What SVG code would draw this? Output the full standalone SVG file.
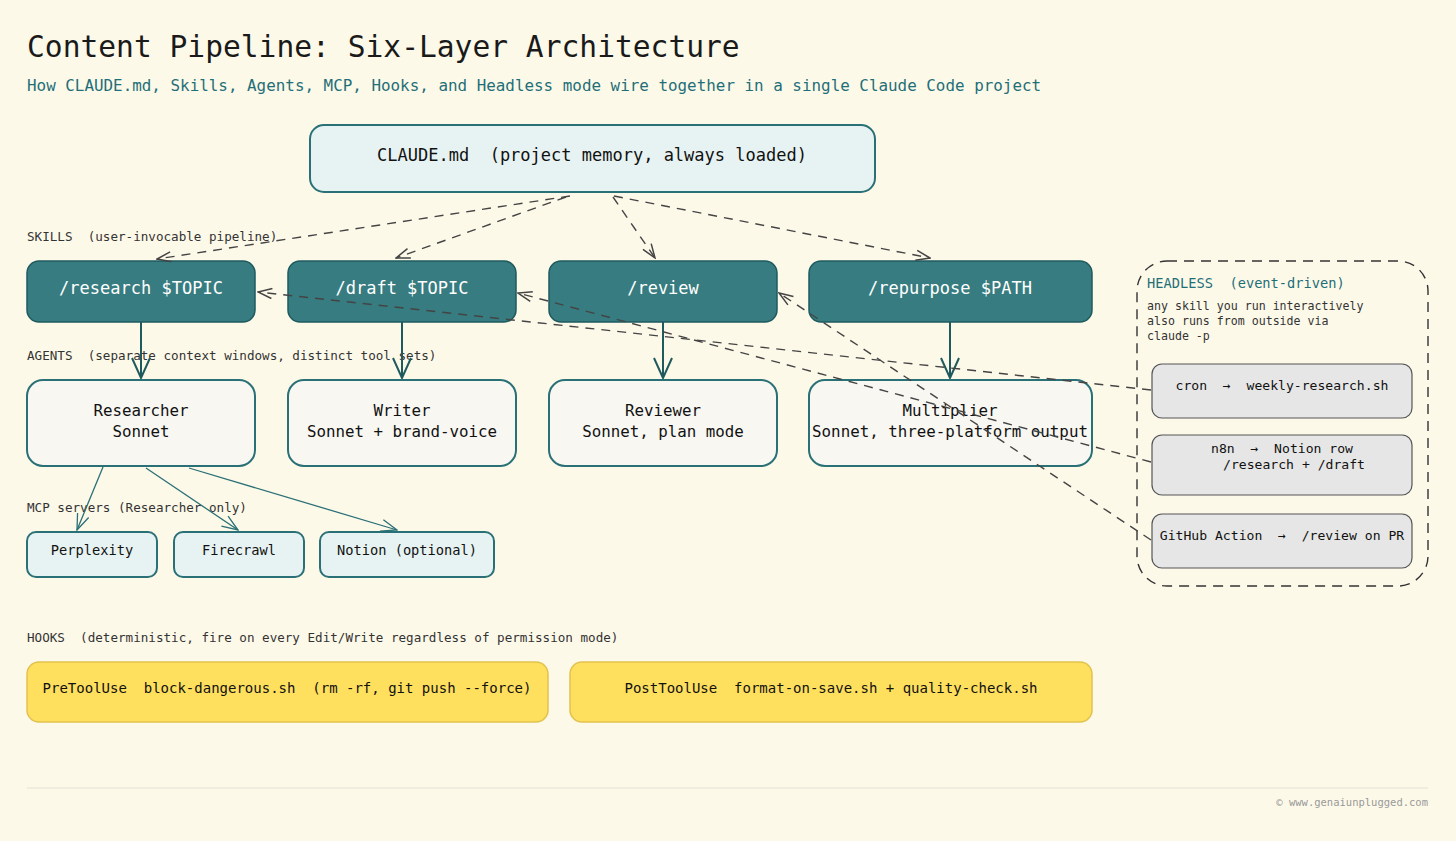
<svg xmlns="http://www.w3.org/2000/svg" width="1456" height="841" viewBox="0 0 1456 841" xml:space="preserve">
<style>
text{font-family:"DejaVu Sans Mono","Liberation Mono",monospace;white-space:pre}
.lbl{font-size:12.6px;fill:#333}
.skill rect{fill:#377c80;stroke:#1e5a5e;stroke-width:1.5}
.skill text{fill:#fff;font-size:17px;text-anchor:middle}
.agent rect{fill:#f8f7f2;stroke:#2a7077;stroke-width:2}
.agent text{fill:#111;font-size:15.8px;text-anchor:middle}
.mcp rect{fill:#e7f3f2;stroke:#2a7077;stroke-width:2}
.mcp text{fill:#111;font-size:13.7px;text-anchor:middle}
.hook rect{fill:#ffdf5e;stroke:#e2c24e;stroke-width:1.5}
.hook text{fill:#111;font-size:14px;text-anchor:middle}
.hl rect{fill:#e6e6e6;stroke:#555;stroke-width:1.2}
.hl text{fill:#111;font-size:13.1px}
.dash{fill:none;stroke:#444;stroke-width:1.4;stroke-dasharray:9 7}
.solid{fill:none;stroke:#1e5a5e;stroke-width:2}
.thin{fill:none;stroke:#2a7077;stroke-width:1.3}
</style>
<defs>
<marker id="ad" viewBox="0 0 16 12" refX="15" refY="6" markerWidth="16" markerHeight="12" markerUnits="userSpaceOnUse" orient="auto">
<path d="M1,1 L15,6 L1,11" fill="none" stroke="#444" stroke-width="1.5"/>
</marker>
<marker id="as" viewBox="0 0 22 20" refX="21" refY="10" markerWidth="22" markerHeight="20" markerUnits="userSpaceOnUse" orient="auto">
<path d="M1,1 L21,10 L1,19" fill="none" stroke="#1e5a5e" stroke-width="2"/>
</marker>
<marker id="at" viewBox="0 0 18 14" refX="17" refY="7" markerWidth="18" markerHeight="14" markerUnits="userSpaceOnUse" orient="auto">
<path d="M1,1 L17,7 L1,13" fill="none" stroke="#2a7077" stroke-width="1.3"/>
</marker>
</defs>
<rect x="0" y="0" width="1456" height="841" fill="#fdf9e9"/>
<text x="27" y="57" font-size="29.6" fill="#1a1a1a">Content Pipeline: Six-Layer Architecture</text>
<text x="27" y="91" font-size="15.9" fill="#1f6f78">How CLAUDE.md, Skills, Agents, MCP, Hooks, and Headless mode wire together in a single Claude Code project</text>
<g id="claude">
<rect x="310" y="125" width="565" height="67" rx="14" fill="#e7f3f2" stroke="#2a7077" stroke-width="2"/>
<text x="592" y="161" font-size="17" fill="#111" text-anchor="middle">CLAUDE.md  (project memory, always loaded)</text>
</g>
<text class="lbl" x="27" y="241">SKILLS  (user-invocable pipeline)</text>
<text class="lbl" x="27" y="360">AGENTS  (separate context windows, distinct tool sets)</text>
<text class="lbl" x="27" y="512">MCP servers (Researcher only)</text>
<text class="lbl" x="27" y="642">HOOKS  (deterministic, fire on every Edit/Write regardless of permission mode)</text>
<g id="skill-research" class="skill"><rect x="27" y="261" width="228" height="61" rx="12"/><text x="141" y="294">/research $TOPIC</text></g>
<g id="skill-draft" class="skill"><rect x="288" y="261" width="228" height="61" rx="12"/><text x="402" y="294">/draft $TOPIC</text></g>
<g id="skill-review" class="skill"><rect x="549" y="261" width="228" height="61" rx="12"/><text x="663" y="294">/review</text></g>
<g id="skill-repurpose" class="skill"><rect x="809" y="261" width="283" height="61" rx="12"/><text x="950" y="294">/repurpose $PATH</text></g>
<g id="agent-researcher" class="agent"><rect x="27" y="380" width="228" height="86" rx="16"/><text x="141" y="416">Researcher</text><text x="141" y="437">Sonnet</text></g>
<g id="agent-writer" class="agent"><rect x="288" y="380" width="228" height="86" rx="16"/><text x="402" y="416">Writer</text><text x="402" y="437">Sonnet + brand-voice</text></g>
<g id="agent-reviewer" class="agent"><rect x="549" y="380" width="228" height="86" rx="16"/><text x="663" y="416">Reviewer</text><text x="663" y="437">Sonnet, plan mode</text></g>
<g id="agent-multiplier" class="agent"><rect x="809" y="380" width="283" height="86" rx="16"/><text x="950" y="416">Multiplier</text><text x="950" y="437">Sonnet, three-platform output</text></g>
<g id="mcp-perplexity" class="mcp"><rect x="27" y="532" width="130" height="45" rx="9"/><text x="92" y="555">Perplexity</text></g>
<g id="mcp-firecrawl" class="mcp"><rect x="174" y="532" width="130" height="45" rx="9"/><text x="239" y="555">Firecrawl</text></g>
<g id="mcp-notion" class="mcp"><rect x="320" y="532" width="174" height="45" rx="9"/><text x="407" y="555">Notion (optional)</text></g>
<g id="hook-pre" class="hook"><rect x="27" y="662" width="521" height="60" rx="12"/><text x="287" y="693">PreToolUse  block-dangerous.sh  (rm -rf, git push --force)</text></g>
<g id="hook-post" class="hook"><rect x="570" y="662" width="522" height="60" rx="12"/><text x="831" y="693">PostToolUse  format-on-save.sh + quality-check.sh</text></g>
<g id="headless">
<rect x="1137" y="261" width="291" height="325" rx="30" fill="none" stroke="#333" stroke-width="1.4" stroke-dasharray="10 7"/>
<text x="1147" y="288" font-size="13.7" fill="#1f6f78">HEADLESS  (event-driven)</text>
<text x="1147" y="310" font-size="11.6" fill="#333">any skill you run interactively</text>
<text x="1147" y="325" font-size="11.6" fill="#333">also runs from outside via</text>
<text x="1147" y="340" font-size="11.6" fill="#333">claude -p</text>
</g>
<g id="hl-cron" class="hl"><rect x="1152" y="364" width="260" height="54" rx="10"/><text x="1282" y="390" text-anchor="middle">cron  →  weekly-research.sh</text></g>
<g id="hl-n8n" class="hl"><rect x="1152" y="435" width="260" height="60" rx="10"/><text x="1282" y="453" text-anchor="middle">n8n  →  Notion row</text><text x="1294" y="469" text-anchor="middle">/research + /draft</text></g>
<g id="hl-github" class="hl"><rect x="1152" y="514" width="260" height="54" rx="10"/><text x="1282" y="540" text-anchor="middle">GitHub Action  →  /review on PR</text></g>
<g id="connectors">
<path class="solid" d="M141,322 V378" marker-end="url(#as)"/>
<path class="solid" d="M402,322 V378" marker-end="url(#as)"/>
<path class="solid" d="M663,322 V378" marker-end="url(#as)"/>
<path class="solid" d="M950,322 V378" marker-end="url(#as)"/>
<path class="thin" d="M103,467 L77,530" marker-end="url(#at)"/>
<path class="thin" d="M146,468 L238,530" marker-end="url(#at)"/>
<path class="thin" d="M189,468 L397,530" marker-end="url(#at)"/>
<path class="dash" d="M570,196 L157,259" marker-end="url(#ad)"/>
<path class="dash" d="M566,197 L396,258" marker-end="url(#ad)"/>
<path class="dash" d="M613,197 L655,258" marker-end="url(#ad)"/>
<path class="dash" d="M614,196 L930,258" marker-end="url(#ad)"/>
<path class="dash" d="M1151,390 L258,292" marker-end="url(#ad)"/>
<path class="dash" d="M1151,462 L518,293" marker-end="url(#ad)"/>
<path class="dash" d="M1151,540 L779,293" marker-end="url(#ad)"/>
</g>
<line x1="27" y1="788" x2="1428" y2="788" stroke="#e4e2d6" stroke-width="1"/>
<text x="1428" y="806" font-size="10.5" fill="#999" text-anchor="end">© www.genaiunplugged.com</text>
</svg>
